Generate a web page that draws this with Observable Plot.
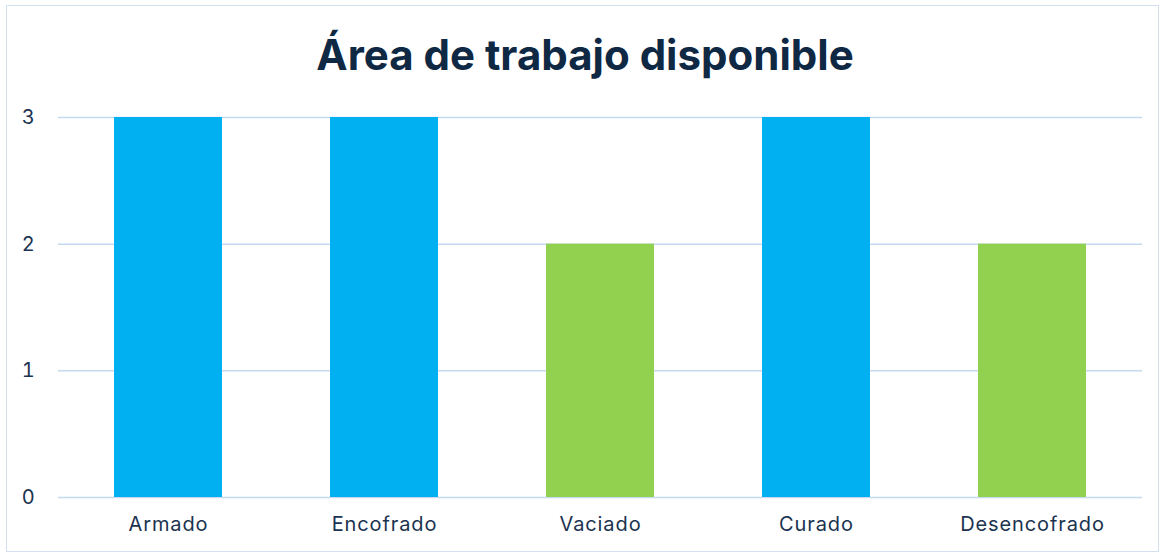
<!DOCTYPE html>
<html>
<head>
<meta charset="utf-8">
<script src="https://cdn.jsdelivr.net/npm/d3@7"></script>
<script src="https://cdn.jsdelivr.net/npm/@observablehq/plot@0.6"></script>
<style>
  html, body { margin: 0; padding: 0; background: #fff; }
  #wrap { position: relative; width: 1166px; height: 559px; overflow: hidden; font-family: Inter, "Noto Sans", sans-serif; }
  #frame { position: absolute; left: 6px; top: 5px; width: 1153px; height: 547px; border: 1.5px solid #D3E0F0; box-sizing: border-box; }
  #title { position: absolute; left: 0; top: 27px; width: 1170px; text-align: center; font-size: 42px; font-weight: 700; color: #0F2843; line-height: 56px; }
  #chart { position: absolute; left: 0; top: 90px; }
  #chart svg text { letter-spacing: 0.9px; }
</style>
</head>
<body>
<div id="wrap">
  <div id="frame"></div>
  <div id="title">Área de trabajo disponible</div>
  <div id="chart"></div>
</div>
<script>
const categories = ["Armado", "Encofrado", "Vaciado", "Curado", "Desencofrado"];
const values = [3, 3, 2, 3, 2];
const barColors = ["#00B0F0", "#00B0F0", "#92D050", "#00B0F0", "#92D050"];
const yTicks = [0, 1, 2, 3];

const data = categories.map((c, i) => ({category: c, value: values[i], color: barColors[i]}));

const chart = Plot.plot({
  width: 1166,
  height: 469,
  marginLeft: 58,
  marginRight: 24,
  marginTop: 27,
  marginBottom: 62,
  style: {fontFamily: "Inter, 'Noto Sans', sans-serif", fontSize: "20px", color: "#1B3350", background: "transparent"},
  x: {domain: categories, paddingInner: 0.5, paddingOuter: 0.25, label: null},
  y: {domain: [0, 3], label: null},
  marks: [
    Plot.ruleY(yTicks, {stroke: "#C5D9F1", strokeWidth: 1.5}),
    Plot.barY(data, {x: "category", y: "value", fill: "color"}),
    Plot.axisY(yTicks, {tickSize: 0, tickPadding: 23, label: null, fontSize: 20, fill: "#1B3350", tickFormat: d3.format("d")}),
    Plot.axisX({tickSize: 0, tickPadding: 19, label: null, fontSize: 20, fill: "#1B3350"})
  ]
});
document.getElementById("chart").appendChild(chart);
</script>
</body>
</html>
